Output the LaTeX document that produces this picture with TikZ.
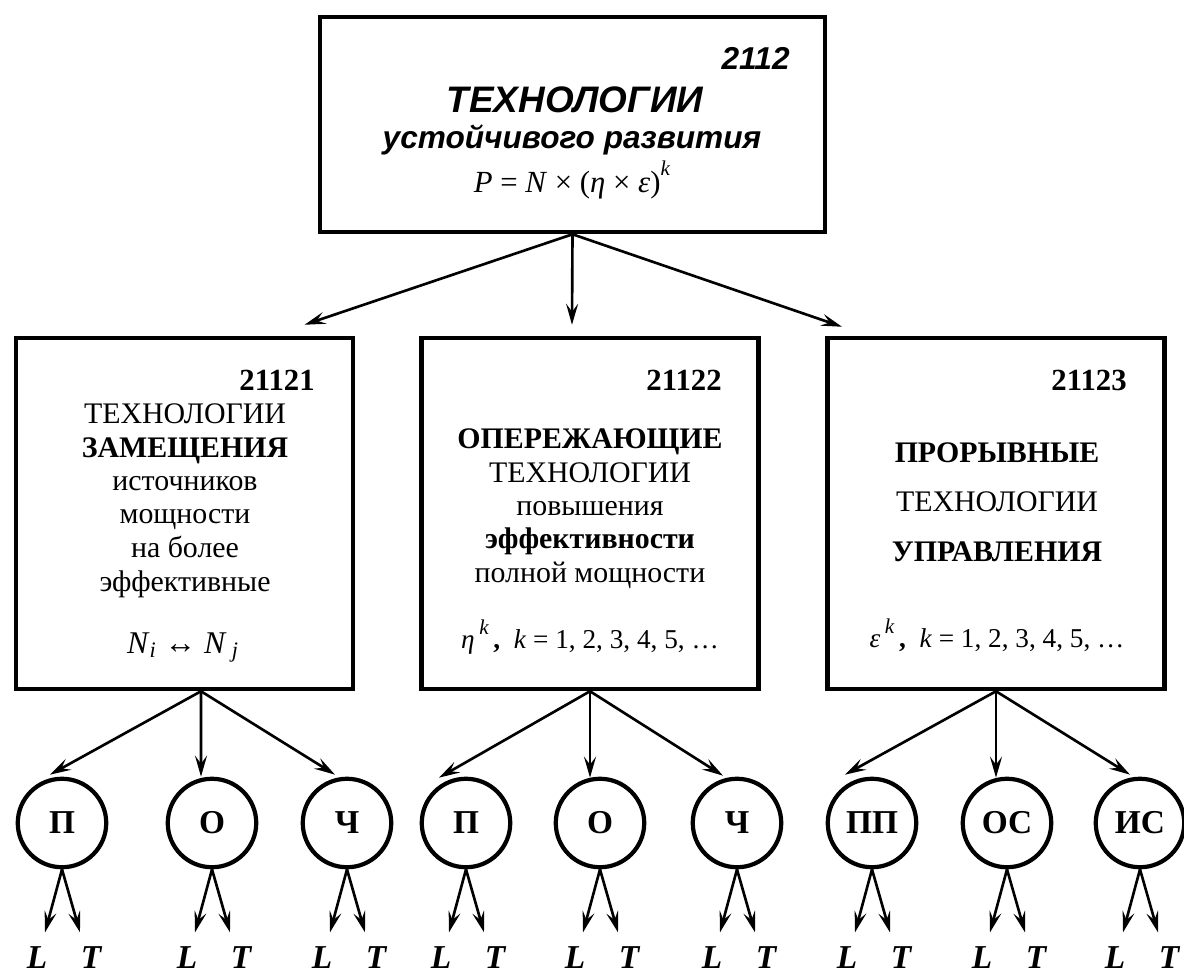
\documentclass[tikz,border=0pt]{standalone}
\usepackage{fontspec}
\setmainfont{Liberation Serif}
\newfontfamily\arialfont{Liberation Sans}
\usetikzlibrary{arrows.meta, positioning}

\begin{document}
\begin{tikzpicture}[
        x=0.02cm, y=-0.02cm,
        topbox/.style={rectangle, draw, line width=2.6pt, minimum width=10.1cm, minimum height=4.3cm, inner sep=0pt},
        box/.style={rectangle, draw, line width=2.6pt, minimum width=6.74cm, minimum height=7.02cm, inner sep=0pt},
        circ/.style={circle, draw, line width=2.4pt, minimum size=1.77cm, inner sep=0pt, font=\fontsize{19}{21}\selectfont\bfseries},
        txt/.style={anchor=base, inner sep=0pt, font=\fontsize{17}{19}\selectfont},
        btxt/.style={txt, font=\fontsize{17}{19}\selectfont\bfseries},
        num/.style={anchor=base east, inner sep=0pt, font=\fontsize{17.5}{19}\selectfont\bfseries},
        form/.style={anchor=base, inner sep=0pt, font=\fontsize{15.5}{17}\selectfont},
        lt/.style={anchor=base, inner sep=0pt, font=\fontsize{19}{21}\selectfont\bfseries\itshape},
        line/.style={draw, -{Stealth[length=0.42cm, width=0.24cm, inset=0.16cm]}, line width=1.5pt}
    ]
        \useasboundingbox (0,0) rectangle (1184,974);

        % Top block
        \node [topbox] (top) at (572.5,124.5) {};
        \node [anchor=base east, inner sep=0pt, font=\arialfont\bfseries\itshape\fontsize{18}{20}\selectfont] (topnum) at (790,69) {2112};
        \node [anchor=base, inner sep=0pt, font=\arialfont\bfseries\itshape\fontsize{21}{24}\selectfont] (toptitle) at (575,112) {ТЕХНОЛОГИИ};
        \node [anchor=base, inner sep=0pt, font=\arialfont\bfseries\itshape\fontsize{18}{20}\selectfont] (topsub) at (572,148) {устойчивого развития};
        \node [form, font=\fontsize{17.5}{19}\selectfont] (topform) at (572,192) {\textit{P} = \textit{N} × (\textit{η} × \textit{ε})\raisebox{0.55em}{\fontsize{12}{14}\selectfont\textit{k}}};

        % Second level
        \node [box] (lbox) at (184.5,513.5) {};
        \node [box] (mbox) at (590,513.5) {};
        \node [box] (rbox) at (996,513.5) {};

        \node [num] (lnum) at (315,390) {21121};
        \node [txt] (l1) at (185,423) {ТЕХНОЛОГИИ};
        \node [btxt] (l2) at (185,457) {ЗАМЕЩЕНИЯ};
        \node [txt] (l3) at (185,490) {источников};
        \node [txt] (l4) at (185,523) {мощности};
        \node [txt] (l5) at (185,557) {на более};
        \node [txt] (l6) at (185,591) {эффективные};
        \node [form, font=\fontsize{18}{20}\selectfont] (lform) at (183,653) {\textit{N}\textsubscript{\textit{i}} ↔ \textit{N}\,\textsubscript{\textit{j}}};

        \node [num] (mnum) at (722,390) {21122};
        \node [btxt] (m1) at (590,448) {ОПЕРЕЖАЮЩИЕ};
        \node [txt] (m2) at (590,482) {ТЕХНОЛОГИИ};
        \node [txt] (m3) at (590,515) {повышения};
        \node [btxt] (m4) at (590,548) {эффективности};
        \node [txt] (m5) at (590,582) {полной мощности};
        \node [form] (mform) at (590,648) {\textit{η}\,\raisebox{0.5em}{\fontsize{12}{14}\selectfont\textit{k}}\,{\bfseries,}\ \ \textit{k} = 1, 2, 3, 4, 5, …};

        \node [num] (rnum) at (1127,390) {21123};
        \node [btxt] (r1) at (997,462) {ПРОРЫВНЫЕ};
        \node [txt] (r2) at (997,511) {ТЕХНОЛОГИИ};
        \node [btxt] (r3) at (997,561) {УПРАВЛЕНИЯ};
        \node [form] (rform) at (997,647) {\textit{ε}\,\raisebox{0.5em}{\fontsize{12}{14}\selectfont\textit{k}}\,{\bfseries,}\ \ \textit{k} = 1, 2, 3, 4, 5, …};

        % Circles with L and T outputs
        \foreach \n/\cx/\t in {p1/62/П, o1/212/О, h1/347/Ч, p2/466/П, o2/600/О, h2/737/Ч, pp/872/ПП, os/1007/ОС, is/1140/ИС} {
            \node [circ] (\n) at (\cx,823) {\t};
            \node [lt] (\n-L) at (\cx-25,968) {L};
            \node [lt] (\n-T) at (\cx+29,968) {T};
            \coordinate (\n-a) at ([shift={(-17,63)}]\n.south);
            \coordinate (\n-b) at ([shift={(18,63)}]\n.south);
            \path [line] (\n.south) -- (\n-a);
            \path [line] (\n.south) -- (\n-b);
        }

        % Edges
        \path [line] (top.south) -- ([shift={(120,-11)}]lbox.north);
        \path [line] (top.south) -- ([shift={(-18,-11)}]mbox.north);
        \path [line] (top.south) -- ([shift={(-154,-9)}]rbox.north);

        \path [line] ([shift={(16.5,0)}]lbox.south) -- ([shift={(-12,-2)}]p1.north);
        \path [line] ([shift={(16.5,0)}]lbox.south) -- ([shift={(-11,0)}]o1.north);
        \path [line] ([shift={(16.5,0)}]lbox.south) -- ([shift={(-12,-2)}]h1.north);

        \path [line] (mbox.south) -- ([shift={(-27,1)}]p2.north);
        \path [line] (mbox.south) -- ([shift={(-10,1)}]o2.north);
        \path [line] (mbox.south) -- ([shift={(-14,-1)}]h2.north);

        \path [line] (rbox.south) -- ([shift={(-27,-2)}]pp.north);
        \path [line] (rbox.south) -- ([shift={(-11,1)}]os.north);
        \path [line] (rbox.south) -- ([shift={(-10,-2)}]is.north);
    \end{tikzpicture}
\end{document}
